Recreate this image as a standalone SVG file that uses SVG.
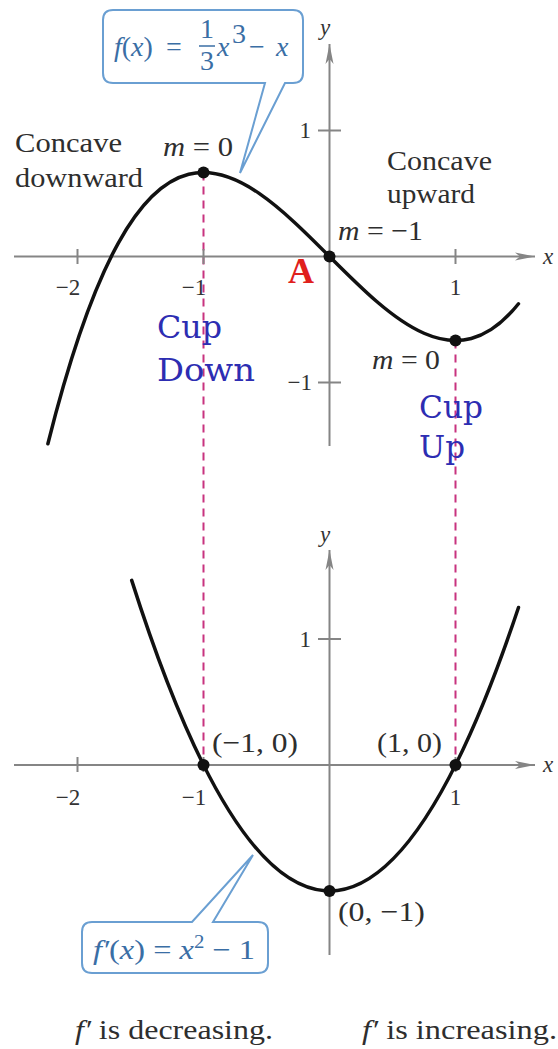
<svg xmlns="http://www.w3.org/2000/svg" width="558" height="1049" viewBox="0 0 558 1049">
<style>
.ax{stroke:#858585;stroke-width:2;fill:none}
.crv{stroke:#111;stroke-width:3.5;fill:none;stroke-linecap:round}
.dash{stroke:#c8337f;stroke-width:2;stroke-dasharray:8 6;fill:none}
.dot{fill:#111}
.lbl{font-family:"Liberation Serif",serif;font-size:28px;fill:#2e2e2e}
.num{font-family:"Liberation Serif",serif;font-size:23px;fill:#333}
.it{font-style:italic}
.cup{font-family:"DejaVu Serif",serif;font-size:31px;fill:#2d2db2}
.call{fill:#fff;stroke:#6a9fd2;stroke-width:2}
.ct{font-family:"Liberation Serif",serif;font-size:28px;fill:#3a6ea5}
</style>
<defs>
<marker id="arr" viewBox="0 0 20 10" refX="20" refY="5" markerWidth="20" markerHeight="10" markerUnits="userSpaceOnUse" orient="auto">
<path d="M0,1 L20,5 L0,9 L5,5 Z" fill="#858585"/>
</marker>
</defs>
<rect width="558" height="1049" fill="#fff"/>

<g id="dashes">
<line class="dash" x1="203.5" y1="172.5" x2="203.5" y2="765"/>
<line class="dash" x1="455.5" y1="340.5" x2="455.5" y2="765"/>
</g>

<g id="top-graph">
<line class="ax" x1="14" y1="256.5" x2="535" y2="256.5" marker-end="url(#arr)"/>
<line class="ax" x1="329.5" y1="446" x2="329.5" y2="44" marker-end="url(#arr)"/>
<line class="ax" x1="77.5" y1="249" x2="77.5" y2="264"/>
<line class="ax" x1="203.5" y1="249" x2="203.5" y2="264"/>
<line class="ax" x1="455.5" y1="249" x2="455.5" y2="264"/>
<line class="ax" x1="318" y1="130.5" x2="341" y2="130.5"/>
<line class="ax" x1="318" y1="382.5" x2="341" y2="382.5"/>
<text class="num it" x="543" y="264">x</text>
<text class="num it" x="320" y="35">y</text>
<text class="num" x="68" y="295" text-anchor="middle">−2</text>
<text class="num" x="194" y="295" text-anchor="middle">−1</text>
<text class="num" x="455.5" y="295" text-anchor="middle">1</text>
<text class="num" x="311" y="138" text-anchor="end">1</text>
<text class="num" x="312" y="390" text-anchor="end">−1</text>
<path class="crv" d="M47.9,443.7 C204.8,-183 361.6,499.8 518.5,303.75"/>
<circle class="dot" cx="203.5" cy="172.5" r="6"/>
<circle class="dot" cx="329.5" cy="256.5" r="6"/>
<circle class="dot" cx="455.5" cy="340.5" r="6"/>
<text class="lbl" x="15" y="152" textLength="107" lengthAdjust="spacingAndGlyphs">Concave</text>
<text class="lbl" x="15" y="187" textLength="128" lengthAdjust="spacingAndGlyphs">downward</text>
<text class="lbl" x="387" y="170" textLength="105" lengthAdjust="spacingAndGlyphs">Concave</text>
<text class="lbl" x="387" y="203" textLength="88" lengthAdjust="spacingAndGlyphs">upward</text>
<text class="lbl" x="163" y="156" textLength="70" lengthAdjust="spacingAndGlyphs"><tspan class="it">m</tspan> = 0</text>
<text class="lbl" x="338" y="240" textLength="85" lengthAdjust="spacingAndGlyphs"><tspan class="it">m</tspan> = −1</text>
<text class="lbl" x="372" y="369" textLength="68" lengthAdjust="spacingAndGlyphs"><tspan class="it">m</tspan> = 0</text>
<text x="288" y="283" font-family="Liberation Serif, serif" font-size="36" font-weight="bold" fill="#e0201c">A</text>
<text class="cup" x="157" y="338" textLength="65" lengthAdjust="spacingAndGlyphs">Cup</text>
<text class="cup" x="157" y="381" textLength="98" lengthAdjust="spacingAndGlyphs">Down</text>
<text class="cup" x="419" y="418" textLength="64" lengthAdjust="spacingAndGlyphs">Cup</text>
<text class="cup" x="419" y="458" textLength="46" lengthAdjust="spacingAndGlyphs">Up</text>
</g>

<g id="callout-f">
<path class="call" d="M113,10 H293 Q303,10 303,20 V73 Q303,83 293,83 H285 L240,173 L265,83 H113 Q103,83 103,73 V20 Q103,10 113,10 Z"/>
<text class="ct" x="114" y="56"><tspan class="it">f</tspan>(<tspan class="it">x</tspan>)</text>
<text class="ct" x="166" y="56">=</text>
<text class="ct" x="207" y="38" text-anchor="middle" font-size="21">1</text>
<line x1="199" y1="46" x2="215" y2="46" stroke="#3a6ea5" stroke-width="1.5"/>
<text class="ct" x="207" y="70" text-anchor="middle" font-size="21">3</text>
<text class="ct it" x="217" y="56">x</text>
<text class="ct" x="232" y="43" font-size="19">3</text>
<text class="ct" x="249" y="56">−</text>
<text class="ct it" x="276" y="56">x</text>
</g>

<g id="bottom-graph">
<line class="ax" x1="14" y1="765" x2="535" y2="765" marker-end="url(#arr)"/>
<line class="ax" x1="329.5" y1="955" x2="329.5" y2="550" marker-end="url(#arr)"/>
<line class="ax" x1="77.5" y1="757" x2="77.5" y2="772"/>
<line class="ax" x1="203.5" y1="757" x2="203.5" y2="772"/>
<line class="ax" x1="455.5" y1="757" x2="455.5" y2="772"/>
<line class="ax" x1="318" y1="639" x2="341" y2="639"/>
<text class="num it" x="543" y="772">x</text>
<text class="num it" x="320" y="542">y</text>
<text class="num" x="68" y="805" text-anchor="middle">−2</text>
<text class="num" x="194" y="805" text-anchor="middle">−1</text>
<text class="num" x="455.5" y="805" text-anchor="middle">1</text>
<text class="num" x="311" y="647" text-anchor="end">1</text>
<path class="crv" d="M131.7,580.4 Q325.1,1187.7 518.5,607.5"/>
<circle class="dot" cx="203.5" cy="765" r="6"/>
<circle class="dot" cx="455.5" cy="765" r="6"/>
<circle class="dot" cx="329.5" cy="891" r="6"/>
<text class="lbl" x="212" y="752" textLength="86" lengthAdjust="spacingAndGlyphs">(−1, 0)</text>
<text class="lbl" x="377" y="752" textLength="65" lengthAdjust="spacingAndGlyphs">(1, 0)</text>
<text class="lbl" x="338" y="921" textLength="87" lengthAdjust="spacingAndGlyphs">(0, −1)</text>
</g>

<g id="callout-fp">
<path class="call" d="M92,922 H192 L253,855 L213,922 H258 Q268,922 268,932 V963 Q268,973 258,973 H92 Q82,973 82,963 V932 Q82,922 92,922 Z"/>
<text class="ct" x="93" y="959" font-size="27" textLength="162" lengthAdjust="spacingAndGlyphs"><tspan class="it">f′</tspan>(<tspan class="it">x</tspan>) = <tspan class="it">x</tspan><tspan font-size="18" dy="-11">2</tspan><tspan dy="11"> − 1</tspan></text>
</g>

<g id="captions">
<text class="lbl" x="75" y="1039" font-size="29" textLength="198" lengthAdjust="spacingAndGlyphs"><tspan class="it">f′</tspan> is decreasing.</text>
<text class="lbl" x="362" y="1039" font-size="29" textLength="195" lengthAdjust="spacingAndGlyphs"><tspan class="it">f′</tspan> is increasing.</text>
</g>
</svg>
